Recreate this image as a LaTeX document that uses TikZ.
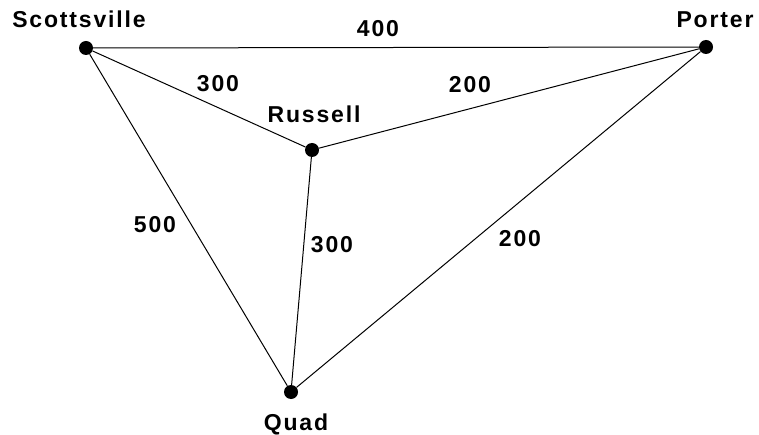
\documentclass[tikz,border=0pt]{standalone}
\usepackage{fontspec}
\setmainfont{Liberation Sans}
\newfontfamily\mapfont{Liberation Sans}[LetterSpace=8]
\tikzset{
  town/.style={circle, fill=black, inner sep=0pt, minimum size=14pt},
  townname/.style={font=\mapfont\fontsize{23}{27}\selectfont\bfseries, anchor=base, inner sep=0pt},
  dist/.style={font=\mapfont\fontsize{23}{27}\selectfont\bfseries, anchor=base, inner sep=0pt},
  road/.style={black, line width=1pt}
}
\begin{document}
\begin{tikzpicture}[x=1pt, y=-1pt]
\useasboundingbox (0,0) rectangle (759,435);
% Towns
\node[town] (scott) at (86,48) {};
\node[town] (porter) at (706,47) {};
\node[town] (russell) at (312,150) {};
\node[town] (quad) at (291,392) {};

% Town names
\node[townname] (scottname) at (79,28) {Scottsville};
\node[townname] (portername) at (715,28) {Porter};
\node[townname] (russellname) at (314,123) {Russell};
\node[townname] (quadname) at (296,430) {Quad};

% Roads
\draw[road] (scott) -- (porter);
\draw[road] (scott) -- (russell);
\draw[road] (russell) -- (porter);
\draw[road] (scott) -- (quad);
\draw[road] (russell) -- (quad);
\draw[road] (porter) -- (quad);

% Distances
\node[dist] (d400) at (378,37) {400};
\node[dist] (d300a) at (218,92) {300};
\node[dist] (d200a) at (470,93) {200};
\node[dist] (d500) at (155,233) {500};
\node[dist] (d300b) at (332,253) {300};
\node[dist] (d200b) at (520,247) {200};
\end{tikzpicture}
\end{document}
